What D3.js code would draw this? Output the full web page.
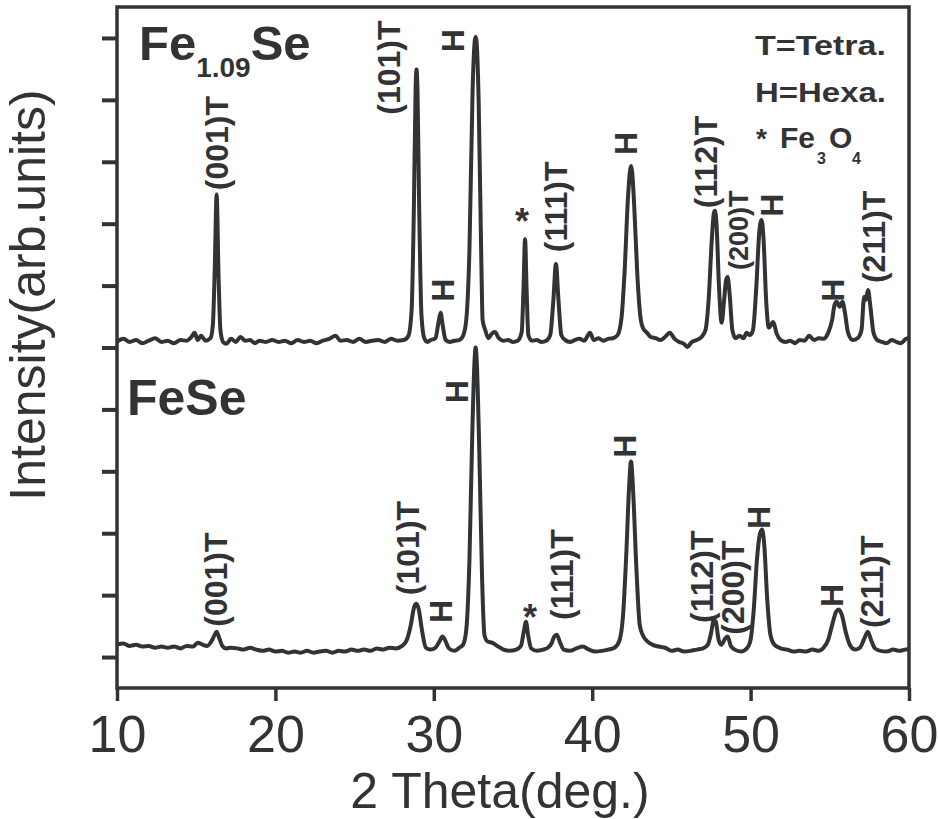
<!DOCTYPE html>
<html>
<head>
<meta charset="utf-8">
<script src="https://cdn.jsdelivr.net/npm/d3@7"></script>
<style>
  body { margin: 0; background: #fff; }
  text { font-family: "Liberation Sans", Arial, sans-serif; fill: #333336; }
</style>
</head>
<body>
<div id="chart"></div>
<script>
// XRD patterns, [2theta, intensity (arb.)]
const fe109sePattern = [[10.0,9],[10.4,14],[10.8,9],[11.2,12],[11.6,7],[12.0,11],[12.4,15],[12.8,9],[13.2,11],[13.6,7],[14.0,12],[14.4,11],[14.7,17],[14.9,24],[15.1,12],[15.3,19],[15.6,11],[15.9,15],[16.05,36],[16.17,125],[16.29,247],[16.41,117],[16.53,28],[16.7,9],[16.9,6],[17.2,14],[17.5,9],[17.8,17],[18.1,11],[18.4,12],[18.7,7],[19.0,11],[19.4,9],[19.8,12],[20.2,9],[20.6,11],[21.0,7],[21.4,12],[21.8,9],[22.2,11],[22.6,7],[23.0,11],[23.4,14],[23.8,19],[24.1,11],[24.5,12],[24.9,9],[25.3,14],[25.7,9],[26.1,11],[26.5,12],[26.9,9],[27.3,14],[27.7,11],[28.1,12],[28.4,19],[28.6,61],[28.75,238],[28.85,416],[28.91,449],[28.97,416],[29.07,238],[29.22,53],[29.4,15],[29.6,9],[29.8,12],[30.1,15],[30.3,41],[30.43,56],[30.56,36],[30.75,12],[31.0,9],[31.3,11],[31.6,12],[31.85,19],[32.05,45],[32.25,158],[32.45,416],[32.58,494],[32.64,502],[32.7,494],[32.83,400],[33.0,141],[33.08,45],[33.25,28],[33.45,15],[33.65,22],[33.86,25],[34.1,15],[34.4,11],[34.7,12],[35.0,9],[35.3,11],[35.55,25],[35.66,93],[35.76,175],[35.86,93],[35.97,20],[36.2,11],[36.5,12],[36.8,9],[37.1,11],[37.35,20],[37.55,77],[37.71,135],[37.87,77],[38.05,20],[38.3,12],[38.6,9],[38.9,12],[39.2,14],[39.5,11],[39.86,24],[40.1,12],[40.4,15],[40.7,11],[41.0,14],[41.3,15],[41.6,20],[41.85,48],[42.05,125],[42.25,238],[42.38,284],[42.45,293],[42.52,284],[42.65,230],[42.85,117],[43.05,48],[43.2,32],[43.45,24],[43.7,17],[44.0,15],[44.3,12],[44.6,17],[44.9,24],[45.2,14],[45.5,9],[45.8,6],[46.0,1],[46.3,9],[46.6,12],[46.9,17],[47.15,28],[47.35,77],[47.55,174],[47.68,217],[47.75,221],[47.85,198],[48.0,101],[48.17,40],[48.33,77],[48.45,109],[48.55,114],[48.68,85],[48.85,28],[49.05,15],[49.3,19],[49.55,15],[49.75,24],[49.95,20],[50.15,28],[50.35,93],[50.55,187],[50.69,206],[50.82,174],[50.98,77],[51.15,32],[51.43,41],[51.65,22],[51.9,12],[52.2,9],[52.5,11],[52.8,7],[53.1,12],[53.4,11],[53.7,19],[54.0,12],[54.3,15],[54.6,14],[54.9,24],[55.15,45],[55.3,69],[55.43,74],[55.62,66],[55.8,74],[55.95,57],[56.15,24],[56.45,12],[56.75,15],[57.0,28],[57.17,82],[57.28,77],[57.41,93],[57.55,69],[57.75,25],[58.0,12],[58.3,9],[58.6,7],[58.9,12],[59.2,9],[59.5,7],[59.8,14],[60.0,15]];

const fesePattern = [[10.0,20],[10.4,22],[10.8,18],[11.2,20],[11.6,17],[12.0,18],[12.4,15],[12.8,17],[13.2,15],[13.6,17],[14.0,14],[14.4,18],[14.8,17],[15.1,23],[15.4,20],[15.7,18],[15.95,25],[16.15,35],[16.29,41],[16.45,31],[16.65,18],[16.9,14],[17.2,15],[17.6,14],[18.0,12],[18.4,15],[18.8,12],[19.2,10],[19.6,12],[20.0,9],[20.4,10],[20.8,7],[21.2,9],[21.6,7],[22.0,10],[22.4,7],[22.8,9],[23.2,10],[23.6,7],[24.0,10],[24.4,9],[24.8,12],[25.2,10],[25.6,12],[26.0,10],[26.4,14],[26.8,12],[27.2,15],[27.6,14],[28.0,18],[28.3,28],[28.55,52],[28.75,80],[28.9,86],[29.05,77],[29.25,44],[29.5,15],[29.8,12],[30.1,15],[30.35,25],[30.55,33],[30.7,28],[30.95,14],[31.3,10],[31.6,15],[31.85,20],[32.05,44],[32.25,157],[32.42,351],[32.56,472],[32.64,500],[32.72,472],[32.87,335],[33.05,125],[33.2,35],[33.4,25],[33.7,23],[34.0,18],[34.4,12],[34.8,10],[35.2,12],[35.5,18],[35.68,41],[35.82,57],[35.95,36],[36.15,14],[36.5,10],[36.9,12],[37.2,15],[37.45,23],[37.6,33],[37.76,36],[37.95,25],[38.2,12],[38.6,10],[39.0,14],[39.4,17],[39.8,12],[40.2,9],[40.6,10],[41.0,12],[41.4,15],[41.7,25],[41.95,68],[42.15,165],[42.32,270],[42.45,316],[42.58,270],[42.78,149],[43.0,52],[43.2,35],[43.5,25],[43.8,20],[44.2,17],[44.6,15],[45.0,10],[45.4,12],[45.8,9],[46.2,10],[46.6,12],[47.0,14],[47.3,20],[47.5,38],[47.68,60],[47.8,57],[47.98,28],[48.15,20],[48.4,30],[48.55,33],[48.75,18],[49.0,12],[49.4,9],[49.8,15],[50.0,28],[50.2,77],[50.4,157],[50.58,198],[50.72,206],[50.86,182],[51.05,93],[51.25,36],[51.5,20],[51.9,14],[52.3,12],[52.7,9],[53.1,10],[53.5,9],[53.9,12],[54.3,10],[54.6,15],[54.9,28],[55.15,52],[55.4,73],[55.58,77],[55.76,68],[56.0,41],[56.3,18],[56.6,12],[56.9,15],[57.15,28],[57.4,41],[57.6,28],[57.85,14],[58.2,10],[58.6,9],[59.0,12],[59.4,10],[59.8,12],[60.0,12]];

const fe109seOffset = 500;
const feseOffset = 0;

const xTicks = [10, 20, 30, 40, 50, 60];
const yTicks = [0, 100, 200, 300, 400, 500, 600, 700, 800, 900, 1000];

// peak annotations: text, 2theta, intensity where the (rotated) label starts
const fe109seLabelText  = ["(001)T", "(101)T", "H", "H", "(111)T", "H", "(112)T", "(200)T", "H", "H", "(211)T"];
const fe109seLabelTheta = [16.31, 27.11, 31.21, 30.52, 37.71, 42.13, 47.12, 49.2, 51.29, 55.14, 57.73];
const fe109seLabelValue = [754, 876, 977, 574, 654, 811, 725, 625, 711, 574, 604];
const feseLabelText  = ["(001)T", "(101)T", "H", "H", "(111)T", "H", "(112)T", "(200)T", "H", "H", "(211)T"];
const feseLabelTheta = [16.19, 28.31, 30.45, 31.40, 38.09, 42.01, 46.87, 48.83, 50.47, 55.08, 57.66];
const feseLabelValue = [49, 100, 55, 410, 60, 322, 55, 36, 207, 81, 47];
// Fe3O4 marks
const starTheta = [35.57, 36.07];
const starValue = [683, 44];

const width = 938, height = 819;
const margin = { top: 7, right: 29, bottom: 131, left: 117 };
const ink = "#333336";

const svg = d3.select("#chart").append("svg")
    .attr("width", width)
    .attr("height", height);

svg.append("rect").attr("width", width).attr("height", height).attr("fill", "#fff");

const xScale = d3.scaleLinear().domain([10, 60]).range([margin.left, width - margin.right]);
const yScale = d3.scaleLinear().domain([-50, 1050]).range([height - margin.bottom, margin.top]);

// axes
const xAxisG = svg.append("g")
    .attr("transform", `translate(0,${height - margin.bottom})`)
    .call(d3.axisBottom(xScale).tickValues(xTicks).tickSize(13).tickPadding(14));
xAxisG.select(".domain").remove();
xAxisG.selectAll("line").attr("stroke", ink).attr("stroke-width", 3.5);
xAxisG.selectAll("text").attr("font-size", 52).attr("fill", ink)
    .style("font-family", '"Liberation Sans", Arial, sans-serif');

const yAxisG = svg.append("g")
    .attr("transform", `translate(${margin.left},0)`)
    .call(d3.axisLeft(yScale).tickValues(yTicks).tickSize(15).tickFormat(() => ""));
yAxisG.select(".domain").remove();
yAxisG.selectAll("line").attr("stroke", ink).attr("stroke-width", 4);

svg.append("rect")
    .attr("x", margin.left).attr("y", margin.top)
    .attr("width", width - margin.left - margin.right)
    .attr("height", height - margin.top - margin.bottom)
    .attr("fill", "none").attr("stroke", ink).attr("stroke-width", 3.5);

// axis titles
svg.append("text")
    .attr("x", 500).attr("y", 808)
    .attr("text-anchor", "middle").attr("font-size", 50)
    .text("2 Theta(deg.)");

svg.append("text")
    .attr("transform", "translate(45,295) rotate(-90)")
    .attr("text-anchor", "middle").attr("font-size", 50)
    .text("Intensity(arb.units)");

// patterns
const lineFor = offset => d3.line()
    .x(d => xScale(d[0]))
    .y(d => yScale(d[1] + offset))
    .curve(d3.curveMonotoneX);

svg.append("path").datum(fe109sePattern)
    .attr("d", lineFor(fe109seOffset))
    .attr("fill", "none").attr("stroke", ink).attr("stroke-width", 4)
    .attr("stroke-linejoin", "round");

svg.append("path").datum(fesePattern)
    .attr("d", lineFor(feseOffset))
    .attr("fill", "none").attr("stroke", ink).attr("stroke-width", 4)
    .attr("stroke-linejoin", "round");

// peak labels
function drawLabels(texts, thetas, values, smallIndex) {
    const g = svg.append("g").attr("font-weight", "bold");
    texts.forEach((t, i) => {
        g.append("text")
            .attr("transform", `translate(${xScale(thetas[i])},${yScale(values[i])}) rotate(-90)`)
            .attr("dy", "0.36em")
            .attr("font-size", i === smallIndex ? 27 : 32)
            .text(t);
    });
}
drawLabels(fe109seLabelText, fe109seLabelTheta, fe109seLabelValue, 7);
drawLabels(feseLabelText, feseLabelTheta, feseLabelValue, -1);

svg.append("g").selectAll("text")
    .data(starTheta)
    .join("text")
    .attr("x", d => xScale(d))
    .attr("y", (d, i) => yScale(starValue[i]))
    .attr("text-anchor", "middle")
    .attr("font-size", 36).attr("font-weight", "bold")
    .text("*");

// sample names
const name1 = svg.append("text")
    .attr("x", margin.left + 22).attr("y", margin.top + 53)
    .attr("font-size", 49).attr("font-weight", "bold");
name1.append("tspan").text("Fe");
name1.append("tspan").attr("font-size", 28).attr("dy", 17).text("1.09");
name1.append("tspan").attr("dy", -17).text("Se");

svg.append("text")
    .attr("x", margin.left + 10).attr("y", 415)
    .attr("font-size", 50).attr("font-weight", "bold")
    .text("FeSe");

// legend
const legend = svg.append("g").attr("font-weight", "bold").attr("font-size", 28);
legend.append("text").attr("x", 755).attr("y", 55)
    .attr("textLength", 131).attr("lengthAdjust", "spacingAndGlyphs").text("T=Tetra.");
legend.append("text").attr("x", 755).attr("y", 102)
    .attr("textLength", 131).attr("lengthAdjust", "spacingAndGlyphs").text("H=Hexa.");
legend.append("text").attr("x", 756).attr("y", 148).text("*");
legend.append("text").attr("x", 780).attr("y", 148).attr("font-size", 30).text("Fe");
legend.append("text").attr("x", 817).attr("y", 164).attr("font-size", 16).text("3");
legend.append("text").attr("x", 829).attr("y", 148).attr("font-size", 30).text("O");
legend.append("text").attr("x", 852).attr("y", 164).attr("font-size", 16).text("4");
</script>
</body>
</html>
